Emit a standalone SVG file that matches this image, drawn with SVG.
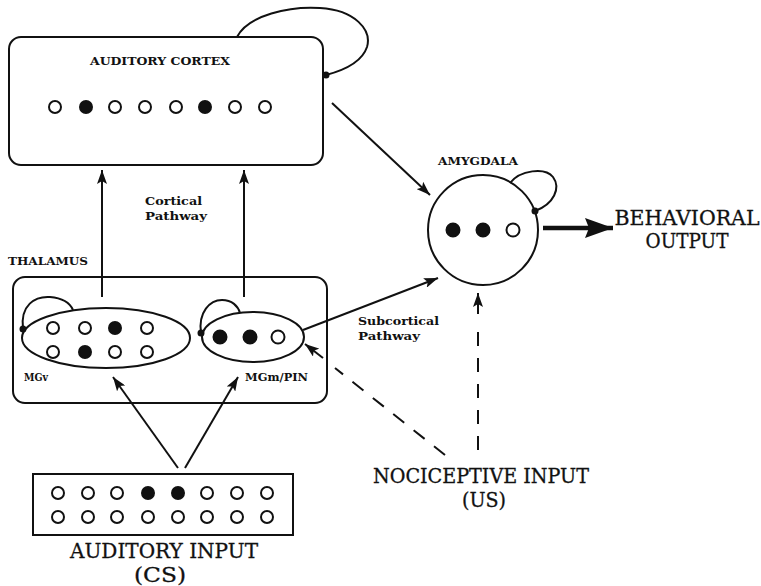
<svg xmlns="http://www.w3.org/2000/svg" width="761" height="586" viewBox="0 0 761 586">
<defs>
<style>
.box{fill:none;stroke:#111;stroke-width:2}
.ln{fill:none;stroke:#111;stroke-width:2}
.dash{fill:none;stroke:#111;stroke-width:2;stroke-dasharray:14 12}
.o{fill:#fff;stroke:#111;stroke-width:2}
.f{fill:#111;stroke:#111;stroke-width:2}
.sm{font-family:"DejaVu Serif","Liberation Serif",serif;font-size:11.5px;font-weight:bold;fill:#111}
.lg{font-family:"DejaVu Serif","Liberation Serif",serif;font-size:20px;fill:#111;stroke:#111;stroke-width:0.3}
</style>
<marker id="ah" markerUnits="userSpaceOnUse" viewBox="0 0 14 10" refX="14" refY="5" markerWidth="14" markerHeight="10" orient="auto">
<path d="M0,0 L14,5 L0,10 L3,5 z" fill="#111"/>
</marker>
<marker id="ahb" markerUnits="userSpaceOnUse" viewBox="0 0 28 20" refX="28" refY="10" markerWidth="28" markerHeight="20" orient="auto">
<path d="M0,0 L28,10 L0,20 L4,10 z" fill="#111"/>
</marker>
</defs>
<rect width="761" height="586" fill="#fff"/>

<g id="auditory-cortex">
<rect class="box" x="9" y="37" width="314" height="128" rx="12"/>
<text class="sm" x="160" y="65" text-anchor="middle" textLength="140" lengthAdjust="spacingAndGlyphs">AUDITORY CORTEX</text>
<circle class="o" cx="55" cy="107" r="6"/>
<circle class="f" cx="86" cy="107" r="6"/>
<circle class="o" cx="115" cy="107" r="6"/>
<circle class="o" cx="145" cy="107" r="6"/>
<circle class="o" cx="176" cy="107" r="6"/>
<circle class="f" cx="205" cy="107" r="6"/>
<circle class="o" cx="235" cy="107" r="6"/>
<circle class="o" cx="265" cy="107" r="6"/>
<path class="ln" d="M237,37 C248,15 290,6 320,8 C355,10 372,30 367,47 C362,62 345,70 326,75"/>
<circle cx="326" cy="75" r="3.5" fill="#111"/>
</g>

<g id="amygdala">
<text class="sm" x="478" y="165" text-anchor="middle" textLength="80" lengthAdjust="spacingAndGlyphs">AMYGDALA</text>
<circle class="box" cx="483" cy="230" r="55"/>
<circle class="f" cx="453" cy="230" r="6.5"/>
<circle class="f" cx="483" cy="230" r="6.5"/>
<circle class="o" cx="513" cy="230" r="6.5"/>
<path class="ln" d="M510,183 C520,170 545,167 553,177 C561,188 554,204 535,211"/>
<circle cx="535" cy="211" r="3.5" fill="#111"/>
</g>

<g id="behavioral-output">
<text class="lg" x="687" y="225" text-anchor="middle" textLength="145" lengthAdjust="spacingAndGlyphs">BEHAVIORAL</text>
<text class="lg" x="687" y="248" text-anchor="middle" textLength="83" lengthAdjust="spacingAndGlyphs">OUTPUT</text>
</g>

<g id="thalamus">
<text class="sm" x="8" y="265" textLength="80" lengthAdjust="spacingAndGlyphs">THALAMUS</text>
<rect class="box" x="13" y="277" width="314" height="126" rx="12"/>
</g>

<g id="mgv">
<ellipse class="box" cx="106" cy="338" rx="84" ry="30"/>
<circle class="o" cx="53" cy="328" r="6"/>
<circle class="o" cx="85" cy="328" r="6"/>
<circle class="f" cx="115" cy="328" r="6"/>
<circle class="o" cx="147" cy="328" r="6"/>
<circle class="o" cx="53" cy="352" r="6"/>
<circle class="f" cx="85" cy="352" r="6"/>
<circle class="o" cx="115" cy="352" r="6"/>
<circle class="o" cx="147" cy="352" r="6"/>
<path class="ln" d="M23,329 C20,305 35,296 50,297 C62,298 70,303 73,310"/>
<circle cx="23" cy="329" r="3.5" fill="#111"/>
<text class="sm" x="24" y="381" textLength="24" lengthAdjust="spacingAndGlyphs">MGv</text>
</g>

<g id="mgm-pin">
<ellipse class="box" cx="253" cy="337" rx="51" ry="25"/>
<circle class="f" cx="220" cy="337" r="6.5"/>
<circle class="f" cx="250" cy="337" r="6.5"/>
<circle class="o" cx="278" cy="337" r="6.5"/>
<path class="ln" d="M201,333 C198,312 210,300 222,300 C232,300 238,306 240,313"/>
<circle cx="201" cy="333" r="3.5" fill="#111"/>
<text class="sm" x="245" y="381" textLength="63" lengthAdjust="spacingAndGlyphs">MGm/PIN</text>
</g>

<g id="auditory-input">
<rect class="box" x="33" y="474" width="260" height="61"/>
<circle class="o" cx="58" cy="493" r="6"/>
<circle class="o" cx="88" cy="493" r="6"/>
<circle class="o" cx="117" cy="493" r="6"/>
<circle class="f" cx="148" cy="493" r="6"/>
<circle class="f" cx="178" cy="493" r="6"/>
<circle class="o" cx="207" cy="493" r="6"/>
<circle class="o" cx="237" cy="493" r="6"/>
<circle class="o" cx="267" cy="493" r="6"/>
<circle class="o" cx="58" cy="517" r="6"/>
<circle class="o" cx="88" cy="517" r="6"/>
<circle class="o" cx="117" cy="517" r="6"/>
<circle class="o" cx="148" cy="517" r="6"/>
<circle class="o" cx="178" cy="517" r="6"/>
<circle class="o" cx="207" cy="517" r="6"/>
<circle class="o" cx="237" cy="517" r="6"/>
<circle class="o" cx="267" cy="517" r="6"/>
<text class="lg" x="164" y="558" text-anchor="middle" textLength="188" lengthAdjust="spacingAndGlyphs">AUDITORY INPUT</text>
<text class="lg" x="160" y="582" text-anchor="middle" textLength="52" lengthAdjust="spacingAndGlyphs">(CS)</text>
</g>

<g id="nociceptive-input">
<text class="lg" x="481" y="483" text-anchor="middle" textLength="216" lengthAdjust="spacingAndGlyphs">NOCICEPTIVE INPUT</text>
<text class="lg" x="484" y="507" text-anchor="middle" textLength="44" lengthAdjust="spacingAndGlyphs">(US)</text>
</g>

<g id="connectors">
<line class="ln" x1="332" y1="103" x2="430" y2="195" marker-end="url(#ah)"/>
<line x1="543" y1="228" x2="613" y2="228" stroke="#111" stroke-width="4.5" marker-end="url(#ahb)"/>
<line class="ln" x1="102" y1="297" x2="102" y2="170" marker-end="url(#ah)"/>
<line class="ln" x1="244" y1="297" x2="244" y2="170" marker-end="url(#ah)"/>
<line class="ln" x1="303" y1="330" x2="438" y2="278" marker-end="url(#ah)"/>
<line class="ln" x1="178" y1="468" x2="113" y2="377" marker-end="url(#ah)"/>
<line class="ln" x1="185" y1="468" x2="238" y2="377" marker-end="url(#ah)"/>
<line class="dash" x1="445" y1="455" x2="335" y2="368"/>
<line class="ln" x1="323" y1="358" x2="305" y2="344" marker-end="url(#ah)"/>
<line class="dash" x1="478" y1="450" x2="478" y2="328"/>
<line class="ln" x1="478" y1="314" x2="478" y2="293" marker-end="url(#ah)"/>
<text class="sm" x="145" y="205" textLength="57" lengthAdjust="spacingAndGlyphs">Cortical</text>
<text class="sm" x="145" y="220" textLength="62" lengthAdjust="spacingAndGlyphs">Pathway</text>
<text class="sm" x="358" y="325" textLength="81" lengthAdjust="spacingAndGlyphs">Subcortical</text>
<text class="sm" x="358" y="340" textLength="62" lengthAdjust="spacingAndGlyphs">Pathway</text>
</g>
</svg>
